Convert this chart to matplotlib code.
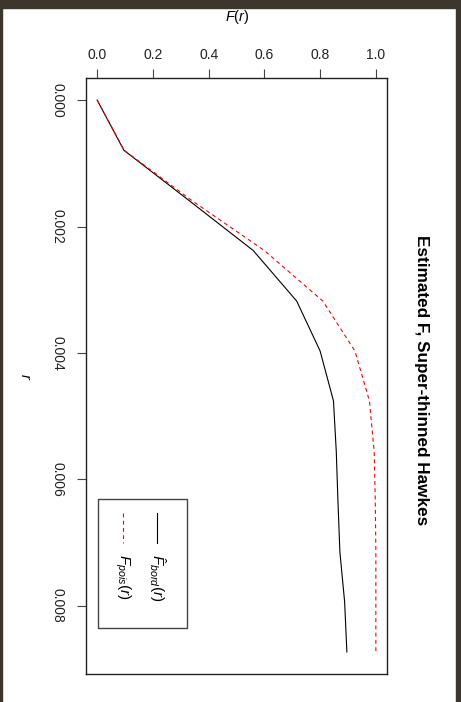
import matplotlib
matplotlib.use("Agg")
import matplotlib.pyplot as plt
from matplotlib.patches import Rectangle

plt.rcParams["font.family"] = ["Liberation Sans", "DejaVu Sans"]
plt.rcParams["mathtext.fontset"] = "custom"
plt.rcParams["mathtext.rm"] = "Liberation Sans"
plt.rcParams["mathtext.it"] = "Liberation Sans:italic"

# distance r and estimated empty-space function values
r_vals = [0.0, 0.000794, 0.00159, 0.00238, 0.00318, 0.00397,
          0.00476, 0.00556, 0.00635, 0.00715, 0.00794, 0.00873]
f_bord = [0.0, 0.096, 0.33, 0.56, 0.716, 0.80,
          0.848, 0.858, 0.864, 0.871, 0.888, 0.896]
f_pois = [0.0, 0.097, 0.34, 0.60, 0.81, 0.925,
          0.977, 0.994, 0.998, 1.0, 1.0, 1.0]

f_ticks = [0.0, 0.2, 0.4, 0.6, 0.8, 1.0]
r_ticks = [0.000, 0.002, 0.004, 0.006, 0.008]

W, H = 461, 702
fig = plt.figure(figsize=(W / 100, H / 100), dpi=100)
fig.patch.set_facecolor("white")

# dark frame around the screenshot
frame = "#3d362d"
fig.patches.append(Rectangle((0, 1 - 8 / H), 1, 8 / H, transform=fig.transFigure,
                             color=frame, zorder=0))
fig.patches.append(Rectangle((0, 0), 2 / W, 1, transform=fig.transFigure,
                             color=frame, zorder=0))
fig.patches.append(Rectangle((456 / W, 0), 5 / W, 1, transform=fig.transFigure,
                             color=frame, zorder=0))

ax = fig.add_axes([86 / W, 1 - 674 / H, (387 - 86) / W, (674 - 78) / H])

# plot rotated: F(r) runs along the top, r runs downward
dash = (3.5, 3)
ax.plot(f_bord, r_vals, color="black", lw=0.8)
ax.plot(f_pois, r_vals, color="red", lw=0.8, dashes=dash)

pad = 0.04 * (max(r_vals) - min(r_vals))
ax.set_xlim(-0.04, 1.04)
ax.set_ylim(max(r_vals) + pad, min(r_vals) - pad)

ax.xaxis.tick_top()
ax.set_xticks(f_ticks)
ax.set_xticklabels([f"{v:.1f}" for v in f_ticks])
ax.set_yticks(r_ticks)
ax.set_yticklabels([f"{v:.3f}" for v in r_ticks], rotation=-90, va="center")
ax.tick_params(axis="both", length=6.5, width=0.8, color="#444444",
               labelsize=10, labelcolor="#222222")
ax.tick_params(axis="x", pad=5)
ax.tick_params(axis="y", pad=9)
for s in ax.spines.values():
    s.set_color("#222222")
    s.set_linewidth(1.0)

# hand-drawn legend, rotated like the rest of the plot
ax.add_patch(Rectangle((0.04, 0.077), 0.296, 0.217, transform=ax.transAxes,
                       fill=False, edgecolor="#444444", lw=1.0))
ax.plot([0.236, 0.236], [0.270, 0.220], transform=ax.transAxes,
        color="black", lw=0.8)
ax.plot([0.123, 0.123], [0.270, 0.220], transform=ax.transAxes,
        color="red", lw=0.8, dashes=dash)
ax.text(0.236, 0.202, r"$\hat{F}_{bord}(r)$", transform=ax.transAxes,
        rotation=-90, ha="center", va="top", fontsize=11)
ax.text(0.123, 0.202, r"$F_{pois}(r)$", transform=ax.transAxes,
        rotation=-90, ha="center", va="top", fontsize=11)

fig.text(237 / W, 1 - 17 / H, r"$F(r)$", ha="center", va="center", fontsize=10.5)
fig.text(25 / W, 1 - 377 / H, r"$r$", rotation=-90, ha="center", va="center",
         fontsize=10.5)
fig.text(421 / W, 1 - 380 / H, "Estimated F, Super-thinned Hawkes",
         rotation=-90, ha="center", va="center", fontsize=12.3,
         fontweight="bold")

fig.savefig("out.png", dpi=100, facecolor=fig.get_facecolor())
